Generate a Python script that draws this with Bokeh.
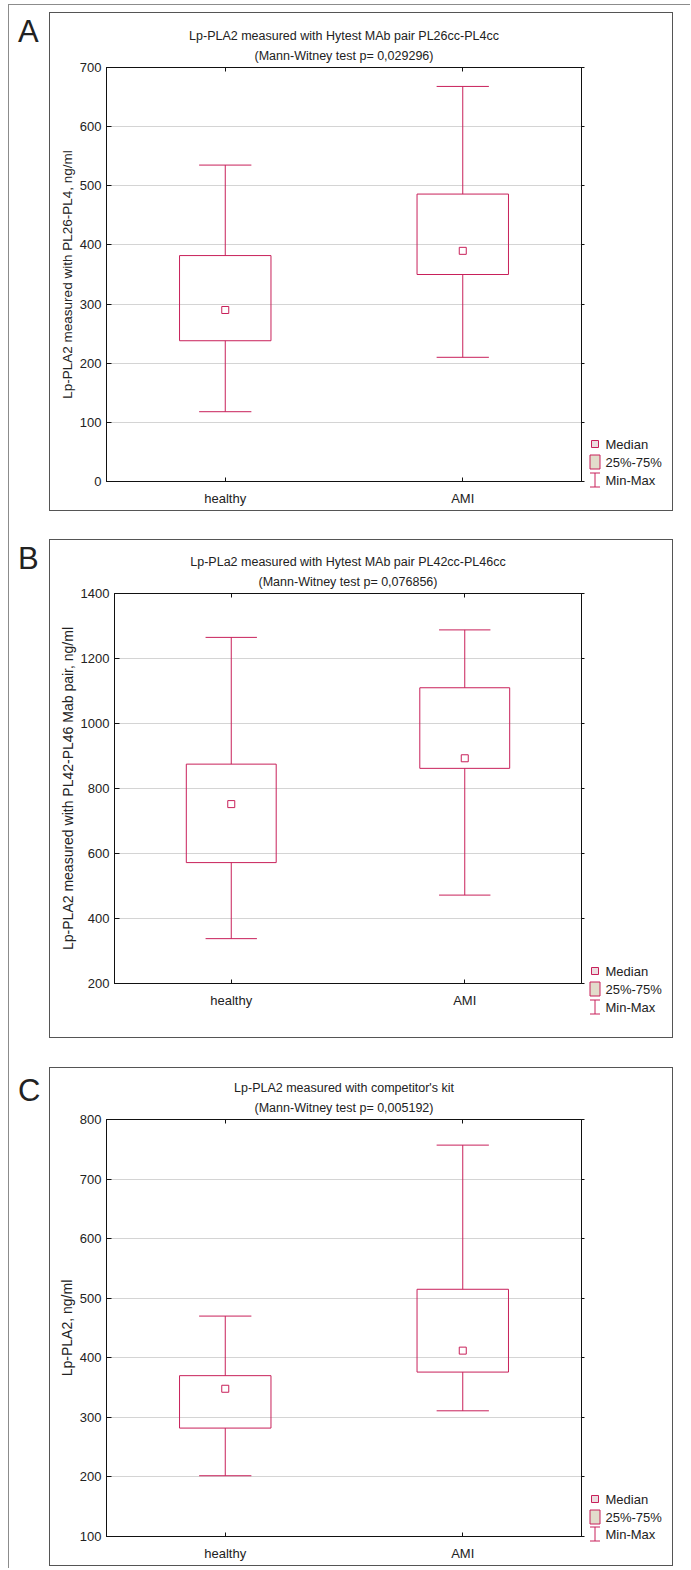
import numpy as np
from bokeh.plotting import figure
from bokeh.layouts import column, row
from bokeh.models import Range1d, FixedTicker, LinearAxis, Title, Spacer
from bokeh.core.properties import value
from bokeh.embed import file_html
from bokeh.resources import INLINE

# ---------------- data ----------------
categories = ["healthy", "AMI"]
cat_pos = [1, 2]

A_min = [118, 210]
A_q1 = [238, 350]
A_med = [290, 390]
A_q3 = [382, 486]
A_max = [535, 668]
A_ticks = [0, 100, 200, 300, 400, 500, 600, 700]

B_min = [338, 472]
B_q1 = [572, 862]
B_med = [752, 893]
B_q3 = [875, 1110]
B_max = [1265, 1288]
B_ticks = [200, 400, 600, 800, 1000, 1200, 1400]

C_min = [202, 311]
C_q1 = [282, 376]
C_med = [348, 412]
C_q3 = [370, 515]
C_max = [470, 757]
C_ticks = [100, 200, 300, 400, 500, 600, 700, 800]

A_title = ["Lp-PLA2 measured with Hytest MAb pair PL26cc-PL4cc", "(Mann-Witney test p= 0,029296)"]
B_title = ["Lp-PLa2 measured with Hytest MAb pair PL42cc-PL46cc", "(Mann-Witney test p= 0,076856)"]
C_title = ["Lp-PLA2 measured with competitor's kit", "(Mann-Witney test p= 0,005192)"]

A_ylabel = "Lp-PLA2 measured with PL26-PL4, ng/ml"
B_ylabel = "Lp-PLA2 measured with PL42-PL46 Mab pair, ng/ml"
C_ylabel = "Lp-PLA2, ng/ml"

legend_labels = ["Median", "25%-75%", "Min-Max"]

# ---------------- style / layout ----------------
FONT = "Liberation Sans"
TXT = "#222222"
RED = "#c8205a"
BEIGE = "#e2dccb"
BOX_H = 500          # outer height of a panel box (incl. border)
BORDER = 1.5
INNER_H = 497
LETTER_W = 40
PLOT_W = 537
LEG_W = 85


def bare(width, height, xr, yr):
    f = figure(width=width, height=height, output_backend="svg", toolbar_location=None,
               x_range=xr, y_range=yr, x_axis_location=None, y_axis_location=None,
               min_border_left=0, min_border_right=0, min_border_top=0, min_border_bottom=0,
               outline_line_color=None, background_fill_color="white",
               border_fill_color="white")
    f.xgrid.visible = False
    f.ygrid.visible = False
    return f


def letter_fig(letter, ly):
    f = bare(LETTER_W, BOX_H, Range1d(0, LETTER_W), Range1d(BOX_H, 0))
    f.text(x=[8.5], y=[ly], text=[letter], text_font=value(FONT), text_font_size="31px",
           text_color=TXT, text_baseline="middle", text_align="left")
    return f


def legend_fig(ys):
    f = bare(LEG_W, INNER_H, Range1d(0, LEG_W), Range1d(INNER_H, 0))
    y0, y1, y2 = ys
    f.scatter(x=[7.5], y=[y0], marker="square", size=7, fill_color="#ecdde0",
              line_color=RED, line_width=1)
    f.quad(left=[2.5], right=[12.5], top=[y1 - 7], bottom=[y1 + 7], fill_color=BEIGE,
           line_color=RED, line_width=1)
    f.segment(x0=[7.5, 2.5, 2.5], y0=[y2 - 7, y2 - 7, y2 + 7], x1=[7.5, 12.5, 12.5],
              y1=[y2 + 7, y2 - 7, y2 + 7], line_color=RED, line_width=1)
    f.text(x=[18, 18, 18], y=list(ys), text=legend_labels, text_font=value(FONT),
           text_font_size="13px", text_color=TXT, text_baseline="middle")
    return f


def plot_fig(frame, ylo, yhi, ticks, mins, q1s, meds, q3s, maxs, titles, ylabel, ylab_size):
    fl, ft, fb = frame  # frame left / top / bottom in canvas px
    p = figure(width=PLOT_W, height=INNER_H, output_backend="svg", toolbar_location=None,
               x_range=Range1d(0.5, 2.5), y_range=Range1d(ylo, yhi),
               min_border_left=fl, min_border_right=6,
               min_border_top=ft, min_border_bottom=INNER_H - fb,
               x_axis_location=None, y_axis_location=None,
               background_fill_color="white", border_fill_color="white",
               outline_line_color="#111111", outline_line_width=1)

    # top axis first, so that it sits next to the frame
    tax = LinearAxis(ticker=FixedTicker(ticks=cat_pos),
                     major_label_overrides={cp: "" for cp in cat_pos},
                     major_label_standoff=0, major_label_text_font_size="1px",
                     major_tick_in=4, major_tick_out=0, minor_tick_line_color=None,
                     axis_line_color="#111111", major_tick_line_color="#111111")
    p.add_layout(tax, "above")
    for t, so in [(titles[1], 10), (titles[0], -2)]:
        p.add_layout(Title(text=t, align="center", text_font=FONT, text_font_size="12.5px",
                           text_font_style="normal", text_color=TXT, standoff=so), "above")

    yax = LinearAxis(ticker=FixedTicker(ticks=ticks), axis_label=ylabel,
                     axis_label_text_font=FONT, axis_label_text_font_size=ylab_size,
                     axis_label_text_font_style="normal", axis_label_text_color=TXT,
                     axis_label_standoff=2,
                     major_label_text_font=FONT, major_label_text_font_size="13px",
                     major_label_text_color=TXT, major_label_standoff=5,
                     major_tick_in=5, major_tick_out=0, minor_tick_line_color=None,
                     axis_line_color="#111111", major_tick_line_color="#111111")
    p.add_layout(yax, "left")
    rax = LinearAxis(ticker=FixedTicker(ticks=ticks),
                     major_label_overrides={t: "" for t in ticks},
                     major_label_standoff=0, major_label_text_font_size="1px",
                     major_tick_in=0, major_tick_out=3, minor_tick_line_color=None,
                     axis_line_color="#111111", major_tick_line_color="#111111")
    p.add_layout(rax, "right")
    xax = LinearAxis(ticker=FixedTicker(ticks=cat_pos),
                     major_label_overrides={cp: c for cp, c in zip(cat_pos, categories)},
                     major_label_text_font=FONT, major_label_text_font_size="13px",
                     major_label_text_color=TXT, major_label_standoff=9,
                     major_tick_in=4, major_tick_out=0, minor_tick_line_color=None,
                     axis_line_color="#111111", major_tick_line_color="#111111")
    p.add_layout(xax, "below")

    p.ygrid.ticker = FixedTicker(ticks=ticks)
    p.ygrid.grid_line_color = "#d4d4d4"
    p.xgrid.grid_line_color = None

    xs = np.array(cat_pos, dtype=float)
    box_w = 0.385
    cap_w = 0.22
    p.vbar(x=xs, width=box_w, top=q3s, bottom=q1s, fill_color=None,
           line_color=RED, line_width=1)
    p.segment(x0=xs, y0=q3s, x1=xs, y1=maxs, line_color=RED, line_width=1)
    p.segment(x0=xs, y0=q1s, x1=xs, y1=mins, line_color=RED, line_width=1)
    p.segment(x0=xs - cap_w / 2, y0=maxs, x1=xs + cap_w / 2, y1=maxs, line_color=RED, line_width=1)
    p.segment(x0=xs - cap_w / 2, y0=mins, x1=xs + cap_w / 2, y1=mins, line_color=RED, line_width=1)
    p.scatter(x=xs, y=meds, marker="square", size=7, fill_color="white",
              line_color=RED, line_width=1)
    return p


def panel(letter, ly, frame, ylo, yhi, ticks, mins, q1s, meds, q3s, maxs,
          titles, ylabel, leg_ys, ylab_size):
    pf = plot_fig(frame, ylo, yhi, ticks, mins, q1s, meds, q3s, maxs, titles, ylabel, ylab_size)
    lf = column(legend_fig(leg_ys))   # own column: keeps its frame un-aligned
    boxed = row(pf, lf, styles={"border": f"{BORDER}px solid #555555"})
    return row(letter_fig(letter, ly), boxed)


rowA = panel("A", 19, (56, 54, 468), 0, 700, A_ticks,
             A_min, A_q1, A_med, A_q3, A_max, A_title, A_ylabel, (430.5, 448.5, 466.5), "13.5px")
rowB = panel("B", 19, (64, 53, 443), 200, 1400, B_ticks,
             B_min, B_q1, B_med, B_q3, B_max, B_title, B_ylabel, (430.5, 448.5, 466.5), "14px")
rowC = panel("C", 22.5, (56, 51, 468), 100, 800, C_ticks,
             C_min, C_q1, C_med, C_q3, C_max, C_title, C_ylabel, (430.5, 448.5, 465.5), "14px")

framed = column(Spacer(width=681, height=7), rowA, Spacer(height=27), rowB,
                Spacer(height=28), rowC, Spacer(height=1),
                styles={"border-left": "1.5px solid #8c8c8c",
                        "border-top": "1.5px solid #8c8c8c"})
layout = column(Spacer(height=4), row(Spacer(width=8), framed))
open("out.html", "w").write(file_html(layout, INLINE))
